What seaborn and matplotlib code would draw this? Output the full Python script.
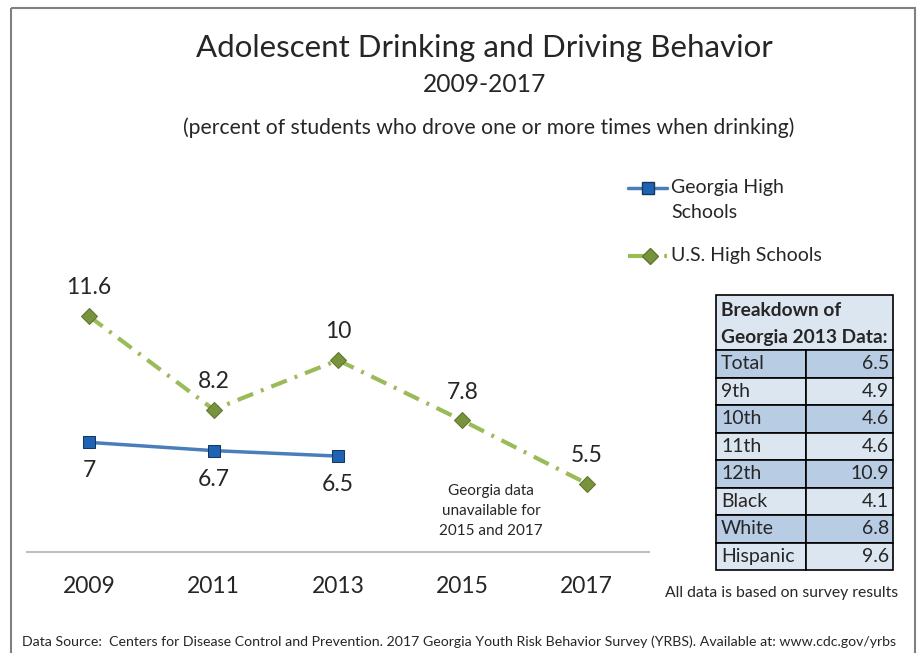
import seaborn as sns
import matplotlib.pyplot as plt
import pandas as pd
from matplotlib.patches import Rectangle
from matplotlib.lines import Line2D

years = ["2009", "2011", "2013", "2015", "2017"]
georgia = [7, 6.7, 6.5]
us = [11.6, 8.2, 10, 7.8, 5.5]

table_labels = ["Total", "9th", "10th", "11th", "12th", "Black", "White", "Hispanic"]
table_values = ["6.5", "4.9", "4.6", "4.6", "10.9", "4.1", "6.8", "9.6"]

sns.set_style("white")
plt.rcParams['font.family'] = ['Lato', 'DejaVu Sans']

W, H = 917, 653
fig = plt.figure(figsize=(W / 100, H / 100), dpi=100)

def fx(px):
    return px / W

def fy(py):
    return 1 - py / H

US_DASH = (0, (4, 2, 0.7, 2))
ga_style = dict(color="#4a7ebb", lw=2.5, marker="s", markersize=9,
                markerfacecolor="#1f64b4", markeredgecolor="#17375e")
us_style = dict(color="#9bbb59", lw=3, marker="D", markersize=8,
                markerfacecolor="#77933c", markeredgecolor="#5f7530")

ax = fig.add_axes([fx(27), fy(552), fx(622), fy(250.6) - fy(552)])

ga_df = pd.DataFrame({"x": list(range(len(georgia))), "y": georgia})
us_df = pd.DataFrame({"x": list(range(len(us))), "y": us})

sns.lineplot(data=us_df, x="x", y="y", ax=ax, **us_style)
ax.lines[-1].set_linestyle(US_DASH)
sns.lineplot(data=ga_df, x="x", y="y", ax=ax, **ga_style)

for i, v in enumerate(us):
    ax.annotate(f"{v:g}", (i, v), xytext=(0, 20.5), textcoords="offset points",
                ha="center", va="center", fontsize=16.5)
for i, v in enumerate(georgia):
    ax.annotate(f"{v:g}", (i, v), xytext=(0, -20.5), textcoords="offset points",
                ha="center", va="center", fontsize=16.5)

ax.set_xlim(-0.5, 4.5)
ax.set_ylim(3, 14)
ax.set_xticks(range(len(years)))
ax.set_xticklabels(years, fontsize=16.5)
ax.set_yticks([])
ax.set_xlabel("")
ax.set_ylabel("")
ax.tick_params(axis="x", length=0, pad=17)
for s in ["top", "left", "right"]:
    ax.spines[s].set_visible(False)
ax.spines["bottom"].set_color("#bfbfbf")
ax.spines["bottom"].set_linewidth(1.5)
ax.patch.set_alpha(0)

ax.text(3.23, 4.5, "Georgia data\nunavailable for\n2015 and 2017", ha="center",
        va="center", fontsize=11, linespacing=1.55)

# titles
fig.text(fx(484.5), fy(48), "Adolescent Drinking and Driving Behavior",
         ha="center", va="center", fontsize=22.5)
fig.text(fx(484.5), fy(85), "2009-2017", ha="center", va="center", fontsize=17.7)
fig.text(fx(488.5), fy(128), "(percent of students who drove one or more times when drinking)",
         ha="center", va="center", fontsize=15.2)

# overlay in pixel coordinates for legend, table and notes
tab = fig.add_axes([0, 0, 1, 1], zorder=5)
tab.set_xlim(0, W)
tab.set_ylim(H, 0)
tab.axis("off")

# legend
tab.add_line(Line2D([628, 667], [188, 188], **{**ga_style, "marker": None}))
tab.add_line(Line2D([648], [188], ls="none", **{k: v for k, v in ga_style.items() if k not in ("lw",)}))
tab.text(671, 188, "Georgia High", fontsize=14, va="center")
tab.text(671, 212, "Schools", fontsize=14, va="center")
tab.add_line(Line2D([628, 667], [256, 256], color=us_style["color"], lw=3, ls=US_DASH))
tab.add_line(Line2D([650], [256], ls="none", **{k: v for k, v in us_style.items() if k not in ("lw",)}))
tab.text(671, 256, "U.S. High Schools", fontsize=14, va="center")

# breakdown table
tx0, tx1, tsplit = 716, 893, 806
ty0, th_head, row_h = 295, 55, 27.5
tab.add_patch(Rectangle((tx0, ty0), tx1 - tx0, th_head, facecolor="#dce6f1",
                        edgecolor="#000000", lw=1.2))
tab.text(tx0 + 5, ty0 + 15, "Breakdown of", fontsize=13.8, fontweight="bold", va="center")
tab.text(tx0 + 5, ty0 + 42, "Georgia 2013 Data:", fontsize=13.8, fontweight="bold", va="center")
for i, (lab, val) in enumerate(zip(table_labels, table_values)):
    y = ty0 + th_head + i * row_h
    col = "#b8cce4" if i % 2 == 0 else "#dce6f1"
    tab.add_patch(Rectangle((tx0, y), tsplit - tx0, row_h, facecolor=col,
                            edgecolor="#000000", lw=1.2))
    tab.add_patch(Rectangle((tsplit, y), tx1 - tsplit, row_h, facecolor=col,
                            edgecolor="#000000", lw=1.2))
    tab.text(tx0 + 5, y + row_h / 2, lab, fontsize=14, va="center")
    tab.text(tx1 - 4, y + row_h / 2, val, fontsize=14, va="center", ha="right")

tab.text(781.5, 593, "All data is based on survey results", fontsize=11.3,
         ha="center", va="center")
tab.text(22, 642, "Data Source:  Centers for Disease Control and Prevention. 2017 Georgia Youth "
         "Risk Behavior Survey (YRBS). Available at: www.cdc.gov/yrbs",
         fontsize=10.2, ha="left", va="center")

# outer frame
tab.add_patch(Rectangle((11, 8), 904, 700, facecolor="none", edgecolor="#808080", lw=1.5))

fig.savefig("out.png", dpi=100)
